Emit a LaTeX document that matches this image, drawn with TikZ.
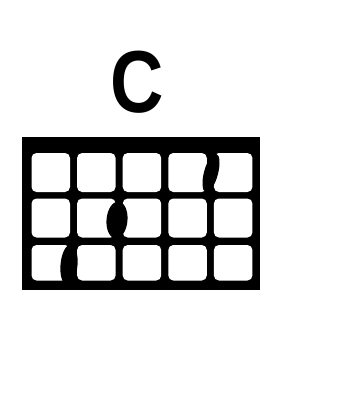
\documentclass[tikz,border=0pt]{standalone}
\usepackage{fontspec}
\setmainfont{Liberation Sans}
\usetikzlibrary{shapes.geometric}
\tikzset{
  chordname/.style={
    font=\fontsize{88}{88}\selectfont\bfseries,
    inner sep=0pt,
    xscale=0.84
  },
  cell/.style={fill=white, rounded corners=5pt},
  fingerdot/.style={
    ellipse,
    fill=black,
    inner sep=0pt
  }
}
\begin{document}
\begin{tikzpicture}[x=1pt,y=-1pt]
  \useasboundingbox (0,0) rectangle (343,402);

  \node[chordname] (name) at (137,82) {C};

  % board with nut, cells cut out
  \fill (22,137) rectangle (260,290);
  \foreach \s in {0,...,4}
    \foreach \top/\bot in {153/192, 198.5/237.5, 245/280.5}
      \fill[cell] (31.5+45.6*\s,\top) rectangle (70+45.6*\s,\bot);

  % fingers
  \node[fingerdot, minimum width=14pt, minimum height=40pt, rotate=-15] (dotB) at (211,173) {};
  \node[fingerdot, minimum width=21pt, minimum height=37pt, rotate=-5] (dotD) at (117,220) {};
  \node[fingerdot, minimum width=17pt, minimum height=41pt, rotate=-5] (dotA) at (69,265) {};
\end{tikzpicture}
\end{document}
